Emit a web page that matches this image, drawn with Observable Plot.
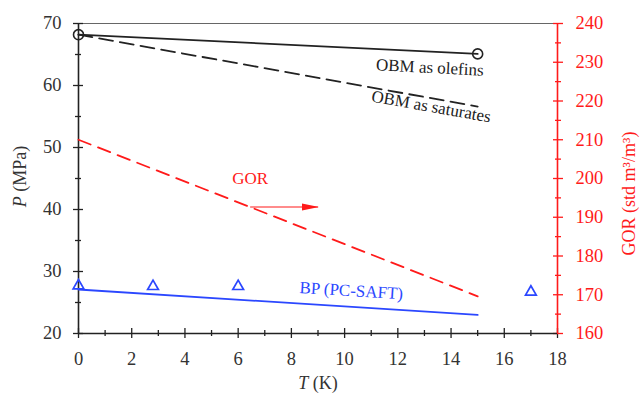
<!DOCTYPE html>
<html><head><meta charset="utf-8">
<script src="https://cdn.jsdelivr.net/npm/d3@7"></script>
<script src="https://cdn.jsdelivr.net/npm/@observablehq/plot@0.6"></script>
<style>
body{margin:0;background:#fff}
svg{display:block}
#chart svg, #chart svg text{font-family:"Liberation Serif","DejaVu Serif",serif !important;}
</style>
</head><body><div id="chart"></div>
<script>
// ---- data ----
const T = [0, 15];
const olefinsP = [68.2, 65.1];
const saturatesP = [68.2, 56.6];
const gorValues = [210, 169.6];
const bpP = [27.1, 23.0];
const expT = [0, 2.8, 6, 17];
const expBP = [27.7, 27.6, 27.6, 26.7];

const xMajor = [0, 2, 4, 6, 8, 10, 12, 14, 16, 18];
const xMinor = [1, 3, 5, 7, 9, 11, 13, 15, 17];
const pMajor = [20, 30, 40, 50, 60, 70];
const pMinor = [25, 35, 45, 55, 65];
const gorMajor = [160, 170, 180, 190, 200, 210, 220, 230, 240];
const gorMinor = [165, 175, 185, 195, 205, 215, 225, 235];

const annotations = [
  {text: "OBM as olefins", T: 13.2, P: 62.9, angle: 3, color: "#222"},
  {text: "OBM as saturates", T: 13.25, P: 56.6, angle: 10, color: "#222"},
  {text: "GOR", T: 6.45, P: 45, angle: 0, color: "#ff1a1a"},
  {text: "BP (PC-SAFT)", T: 10.25, P: 26.9, angle: 3.5, color: "#2b47ff"}
];
const gorArrow = [{T1: 6.45, T2: 9.0, P: 40.4}];

// ---- helpers ----
const gorToP = g => 20 + (g - 160) * 50 / 80;
const pToGor = p => Math.round(160 + (p - 20) * 80 / 50);
const RED = "#ff1a1a", BLUE = "#2b47ff", INK = "#222";
const FONT = "Liberation Serif";
const TICKFS = 18.5, ANNFS = 17, TITLEFS = 18;
const lineData = (ys) => T.map((t, i) => ({T: t, P: ys[i]}));
const expData = expT.map((t, i) => ({T: t, P: expBP[i]}));
const gorData = T.map((t, i) => ({T: t, P: gorToP(gorValues[i])}));

const arrowHead = {
  draw(ctx, size) {
    ctx.moveTo(9, 0); ctx.lineTo(-8, -3.6); ctx.lineTo(-8, 3.6); ctx.closePath();
  }
};

const plot = Plot.plot({
  width: 642, height: 397,
  marginLeft: 78, marginRight: 85, marginTop: 23, marginBottom: 64,
  style: {fontFamily: FONT, fontSize: "17px", color: INK, background: "#fff"},
  x: {domain: [0, 18]},
  y: {domain: [20, 70]},
  marks: [
    Plot.ruleY([70], {stroke: "#666", strokeWidth: 1}),
    // x axis ticks
    Plot.axisX(xMajor, {tickSize: 10, dy: -5, tickFormat: () => "", stroke: INK, strokeWidth: 1.3, label: null}),
    Plot.axisX(xMinor, {tickSize: 6, dy: -3, tickFormat: () => "", stroke: INK, strokeWidth: 1.3, label: null}),
    Plot.axisX(xMajor, {tickSize: 0, tickPadding: 18, fill: "#333", fontFamily: FONT, fontSize: TICKFS, label: null}),
    // left y axis
    Plot.axisY(pMajor, {tickSize: 10, dx: 5, tickFormat: () => "", stroke: INK, strokeWidth: 1.3, label: null}),
    Plot.axisY(pMinor, {tickSize: 6, dx: 3, tickFormat: () => "", stroke: INK, strokeWidth: 1.3, label: null}),
    Plot.axisY(pMajor, {tickSize: 0, tickPadding: 17, fill: "#333", fontFamily: FONT, fontSize: TICKFS, label: null}),
    // right y axis (GOR)
    Plot.axisY(gorMajor.map(gorToP), {anchor: "right", tickSize: 10, dx: -5, tickFormat: () => "", stroke: RED, strokeWidth: 1.3, label: null}),
    Plot.axisY(gorMinor.map(gorToP), {anchor: "right", tickSize: 6, dx: -3, tickFormat: () => "", stroke: RED, strokeWidth: 1.3, label: null}),
    Plot.axisY(gorMajor.map(gorToP), {anchor: "right", tickSize: 0, tickPadding: 18, fill: RED, fontFamily: FONT, fontSize: TICKFS, tickFormat: pToGor, label: null}),
    // axis lines
    Plot.ruleX([0], {stroke: INK, strokeWidth: 1.6}),
    Plot.ruleY([20], {stroke: INK, strokeWidth: 1.6}),
    Plot.ruleX([18], {stroke: RED, strokeWidth: 1.6}),
    // series
    Plot.line(lineData(saturatesP), {x: "T", y: "P", stroke: INK, strokeWidth: 1.8, strokeDasharray: "14,7"}),
    Plot.line(lineData(olefinsP), {x: "T", y: "P", stroke: INK, strokeWidth: 1.8}),
    Plot.dot(lineData(olefinsP), {x: "T", y: "P", r: 5, stroke: INK, strokeWidth: 1.6, fill: "none"}),
    Plot.line(gorData, {x: "T", y: "P", stroke: RED, strokeWidth: 1.8, strokeDasharray: "13,8"}),
    Plot.line(lineData(bpP), {x: "T", y: "P", stroke: BLUE, strokeWidth: 1.8}),
    Plot.dot(expData, {x: "T", y: "P", r: 4, symbol: "triangle", stroke: BLUE, strokeWidth: 1.7, fill: "none"}),
    // GOR arrow
    Plot.link(gorArrow, {x1: "T1", x2: "T2", y1: "P", y2: "P", stroke: RED, strokeWidth: 1.2}),
    Plot.dot(gorArrow, {x: "T2", y: "P", symbol: arrowHead, fill: RED, stroke: "none", dx: -8}),
    // annotations
    Plot.text(annotations, {x: "T", y: "P", text: "text", rotate: "angle", fill: d => d.color, fontFamily: FONT, fontSize: ANNFS}),
    // axis titles
    Plot.text(["P (MPa)"], {frameAnchor: "left", textAnchor: "middle", dx: -58, dy: -2, rotate: -90, fill: "#333", fontFamily: FONT, fontSize: TITLEFS}),
    Plot.text(["T (K)"], {frameAnchor: "bottom", textAnchor: "middle", dy: 55, fill: "#333", fontFamily: FONT, fontSize: TITLEFS}),
    Plot.text(["GOR (std m³/m³)"], {frameAnchor: "right", textAnchor: "middle", dx: 72, dy: 15, rotate: -90, fill: RED, fontFamily: FONT, fontSize: TITLEFS})
  ]
});

plot.querySelectorAll("text").forEach(t => {
  const s = t.textContent;
  if (s === "P (MPa)" || s === "T (K)") {
    const rest = s.slice(1);
    t.textContent = "";
    const it = document.createElementNS("http://www.w3.org/2000/svg", "tspan");
    it.setAttribute("font-style", "italic");
    it.textContent = s[0];
    const rt = document.createElementNS("http://www.w3.org/2000/svg", "tspan");
    rt.textContent = rest;
    t.appendChild(it); t.appendChild(rt);
  }
});

document.getElementById("chart").appendChild(plot);
</script>
</body></html>
